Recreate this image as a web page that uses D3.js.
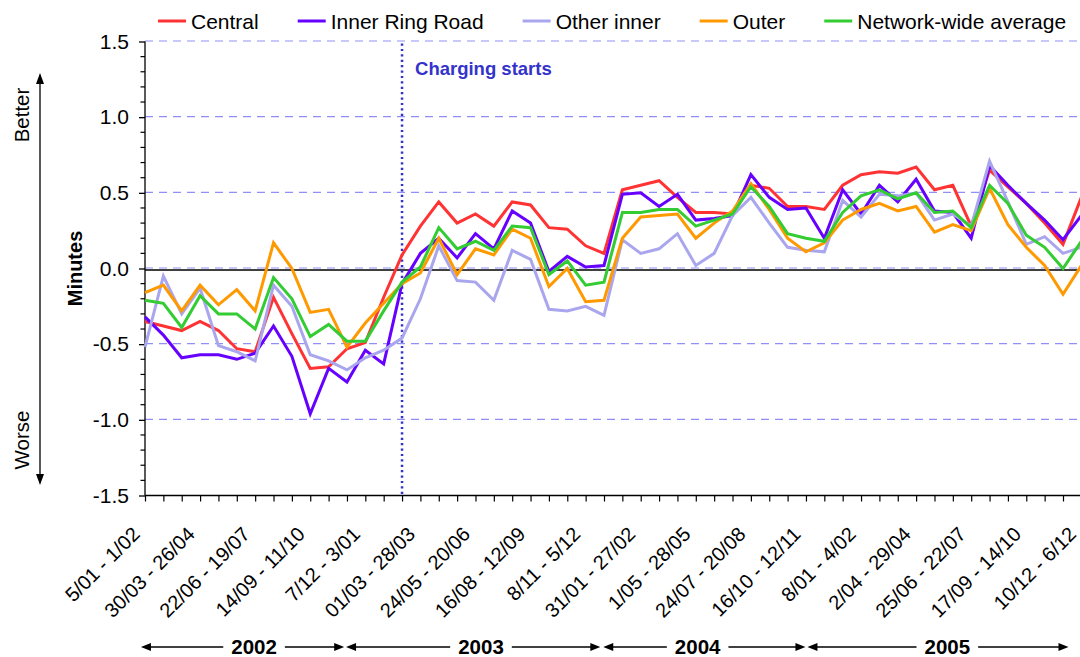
<!DOCTYPE html>
<html><head><meta charset="utf-8">
<script src="https://cdn.jsdelivr.net/npm/d3@7"></script>
<style>
body{margin:0;background:#fff}
svg{display:block}
text{font-family:"Liberation Sans",Arial,sans-serif;fill:#000}
</style>
</head><body>
<svg id="chart" width="1080" height="657"></svg>
<script>
// ---------- data ----------
const tickLabels = ["5/01 - 1/02","30/03 - 26/04","22/06 - 19/07","14/09 - 11/10","7/12 - 3/01",
  "01/03 - 28/03","24/05 - 20/06","16/08 - 12/09","8/11 - 5/12","31/01 - 27/02","1/05 - 28/05",
  "24/07 - 20/08","16/10 - 12/11","8/01 - 4/02","2/04 - 29/04","25/06 - 22/07","17/09 - 14/10","10/12 - 6/12"];
const labelEvery = 3;
const seriesNames = ["Central","Inner Ring Road","Other inner","Outer","Network-wide average"];
const central = [-0.35,-0.38,-0.41,-0.35,-0.41,-0.53,-0.55,-0.19,-0.43,-0.66,-0.65,-0.53,-0.49,-0.19,0.09,0.28,0.44,0.30,0.36,0.28,0.44,0.42,0.27,0.26,0.15,0.10,0.52,0.55,0.58,0.47,0.37,0.37,0.36,0.55,0.53,0.41,0.41,0.39,0.55,0.62,0.64,0.63,0.67,0.52,0.55,0.28,0.65,0.54,0.43,0.30,0.16,0.47];
const innerRing = [-0.32,-0.44,-0.59,-0.57,-0.57,-0.60,-0.56,-0.38,-0.58,-0.96,-0.66,-0.75,-0.54,-0.63,-0.10,0.10,0.20,0.07,0.23,0.13,0.38,0.30,-0.02,0.08,0.01,0.02,0.49,0.50,0.41,0.49,0.32,0.33,0.35,0.62,0.47,0.39,0.40,0.20,0.52,0.36,0.55,0.44,0.59,0.38,0.37,0.20,0.68,0.55,0.43,0.32,0.19,0.35];
const otherInner = [-0.52,-0.05,-0.30,-0.13,-0.51,-0.55,-0.61,-0.11,-0.25,-0.57,-0.61,-0.67,-0.59,-0.54,-0.46,-0.20,0.15,-0.08,-0.09,-0.21,0.12,0.06,-0.27,-0.28,-0.25,-0.31,0.19,0.10,0.13,0.23,0.02,0.10,0.35,0.47,0.30,0.14,0.12,0.11,0.45,0.34,0.49,0.48,0.50,0.32,0.36,0.28,0.71,0.44,0.16,0.21,0.10,0.14];
const outer = [-0.16,-0.11,-0.28,-0.11,-0.24,-0.14,-0.28,0.17,0.00,-0.29,-0.27,-0.52,-0.36,-0.23,-0.10,-0.03,0.20,-0.04,0.13,0.09,0.26,0.20,-0.12,0.00,-0.22,-0.21,0.20,0.34,0.35,0.36,0.20,0.30,0.38,0.56,0.39,0.20,0.11,0.17,0.32,0.39,0.43,0.38,0.41,0.24,0.29,0.25,0.53,0.29,0.14,0.02,-0.17,0.02];
const networkAvg = [-0.21,-0.23,-0.39,-0.18,-0.30,-0.30,-0.40,-0.06,-0.20,-0.45,-0.37,-0.48,-0.48,-0.28,-0.09,0.01,0.27,0.13,0.18,0.12,0.28,0.27,-0.04,0.05,-0.11,-0.09,0.37,0.37,0.39,0.39,0.28,0.32,0.36,0.54,0.41,0.23,0.20,0.18,0.37,0.48,0.52,0.46,0.50,0.37,0.38,0.27,0.55,0.43,0.22,0.14,0.00,0.18];
const yTicks = [1.5,1.0,0.5,0.0,-0.5,-1.0,-1.5];
const years = ["2002","2003","2004","2005"];
const chargingIndex = 14;

// ---------- layout ----------
const colors = ["#ff3333","#6600ff","#aaa6ee","#ff9900","#33cc33"];
const allSeries = [central, innerRing, otherInner, outer, networkAvg];
const n = central.length;
const svg = d3.select("#chart");
const x = d3.scalePoint().domain(d3.range(n)).range([145, 145 + 18.36*(n-1)]);
const y = d3.scaleLinear().domain([-1.5,1.5]).range([495.5,41.5]);
const plotL = 145, plotR = 1080;

// gridlines
svg.append("g").selectAll("line").data(yTicks.filter(v=>v>-1.5)).join("line")
  .attr("x1",plotL).attr("x2",plotR).attr("y1",d=>y(d)-0.5).attr("y2",d=>y(d)-0.5)
  .attr("stroke","#8f8ff5").attr("stroke-width",1.2).attr("stroke-dasharray","8,6");
// zero line
svg.append("line").attr("x1",plotL).attr("x2",plotR).attr("y1",y(0)+1.5).attr("y2",y(0)+1.5)
  .attr("stroke","#000").attr("stroke-width",1.5);

// y axis
const yAxis = d3.axisLeft(y).tickValues(yTicks).tickFormat(d=>d.toFixed(1)).tickSize(6).tickPadding(10);
const gy = svg.append("g").attr("transform",`translate(${plotL},0)`).call(yAxis);
gy.select(".domain").attr("stroke","#000").attr("stroke-width",1.3).attr("d",`M0,${y(1.5)}V${y(-1.5)}`);
gy.selectAll(".tick line").attr("stroke","#000").attr("stroke-width",1.3);
gy.selectAll(".tick text").attr("font-size",21).attr("font-family","Liberation Sans, Arial, sans-serif").attr("fill","#000");
const minor = d3.range(-15,16).map(k=>k/10).filter(v=>Math.abs(v*2-Math.round(v*2))>1e-6);
svg.append("g").selectAll("line").data(minor).join("line")
  .attr("x1",plotL-4.5).attr("x2",plotL).attr("y1",d=>y(d)).attr("y2",d=>y(d))
  .attr("stroke","#000").attr("stroke-width",1.2);

// x axis
const xAxis = d3.axisBottom(x).tickSize(6).tickFormat(()=> "");
const gx = svg.append("g").attr("transform",`translate(0,${y(-1.5)})`).call(xAxis);
gx.select(".domain").attr("d",`M${plotL},0H${plotR}`).attr("stroke","#000").attr("stroke-width",1.3);
gx.selectAll(".tick line").attr("stroke","#000").attr("stroke-width",1.2);
svg.append("g").selectAll("text").data(tickLabels).join("text")
  .attr("transform",(d,i)=>`translate(${x(i*labelEvery)-4},${y(-1.5)+40}) rotate(-45)`)
  .attr("text-anchor","end").attr("font-size",20).text(d=>d);

// charging starts
svg.append("line").attr("x1",x(chargingIndex)).attr("x2",x(chargingIndex))
  .attr("y1",y(1.5)+2).attr("y2",y(-1.5))
  .attr("stroke","#3333cc").attr("stroke-width",2.5).attr("stroke-dasharray","2.2,3.2");
svg.append("text").attr("x",x(chargingIndex)+13).attr("y",75).attr("font-size",18.5)
  .attr("font-weight","bold").style("fill","#3333cc").text("Charging starts");

// series lines
const line = d3.line().x((d,i)=>x(i)).y(d=>y(d));
svg.append("g").selectAll("path").data(allSeries).join("path")
  .attr("d",line).attr("fill","none").attr("stroke",(d,i)=>colors[i])
  .attr("stroke-width",3).attr("stroke-linejoin","miter");

// legend
let lx = 158;
seriesNames.forEach((name,i)=>{
  svg.append("line").attr("x1",lx).attr("x2",lx+28).attr("y1",21).attr("y2",21)
    .attr("stroke",colors[i]).attr("stroke-width",3);
  const t = svg.append("text").attr("x",lx+33).attr("y",29).attr("font-size",21).text(name);
  lx += 33 + t.node().getComputedTextLength() + 39;
});

// y title and better/worse
svg.append("text").attr("transform",`translate(82,${y(0)}) rotate(-90)`).attr("text-anchor","middle")
  .attr("font-size",20).attr("font-weight","bold").text("Minutes");
svg.append("text").attr("transform",`translate(29,115) rotate(-90)`).attr("text-anchor","middle")
  .attr("font-size",20.5).text("Better");
svg.append("text").attr("transform",`translate(29,440) rotate(-90)`).attr("text-anchor","middle")
  .attr("font-size",20.5).text("Worse");
svg.append("line").attr("x1",40).attr("x2",40).attr("y1",82).attr("y2",476).attr("stroke","#000").attr("stroke-width",1.3);
svg.append("path").attr("d","M40,73L36,84L44,84Z").attr("fill","#000");
svg.append("path").attr("d","M40,485L36,474L44,474Z").attr("fill","#000");

// year arrows
const yearSpans = [[-0.22,10.85],[10.95,24.8],[24.96,35.97],[36.08,50.3]];
const yearCenters = [5.94,18.3,30.1,43.7];
const ay = 647;
const xi = v => x(0) + (x(1)-x(0))*v;
years.forEach((yr,k)=>{
  const [a,b] = yearSpans[k];
  const c = xi(yearCenters[k]);
  const t = svg.append("text").attr("x",c).attr("y",654).attr("text-anchor","middle")
    .attr("font-size",20.5).attr("font-weight","bold").text(yr);
  const w = t.node().getComputedTextLength();
  const x1 = xi(a), x2 = xi(b);
  svg.append("line").attr("x1",x1+8).attr("x2",c-w/2-8).attr("y1",ay).attr("y2",ay).attr("stroke","#000").attr("stroke-width",1.3);
  svg.append("line").attr("x1",c+w/2+8).attr("x2",x2-8).attr("y1",ay).attr("y2",ay).attr("stroke","#000").attr("stroke-width",1.3);
  svg.append("path").attr("d",`M${x1},${ay}L${x1+10},${ay-4}L${x1+10},${ay+4}Z`).attr("fill","#000");
  svg.append("path").attr("d",`M${x2},${ay}L${x2-10},${ay-4}L${x2-10},${ay+4}Z`).attr("fill","#000");
});
</script>
</body></html>
